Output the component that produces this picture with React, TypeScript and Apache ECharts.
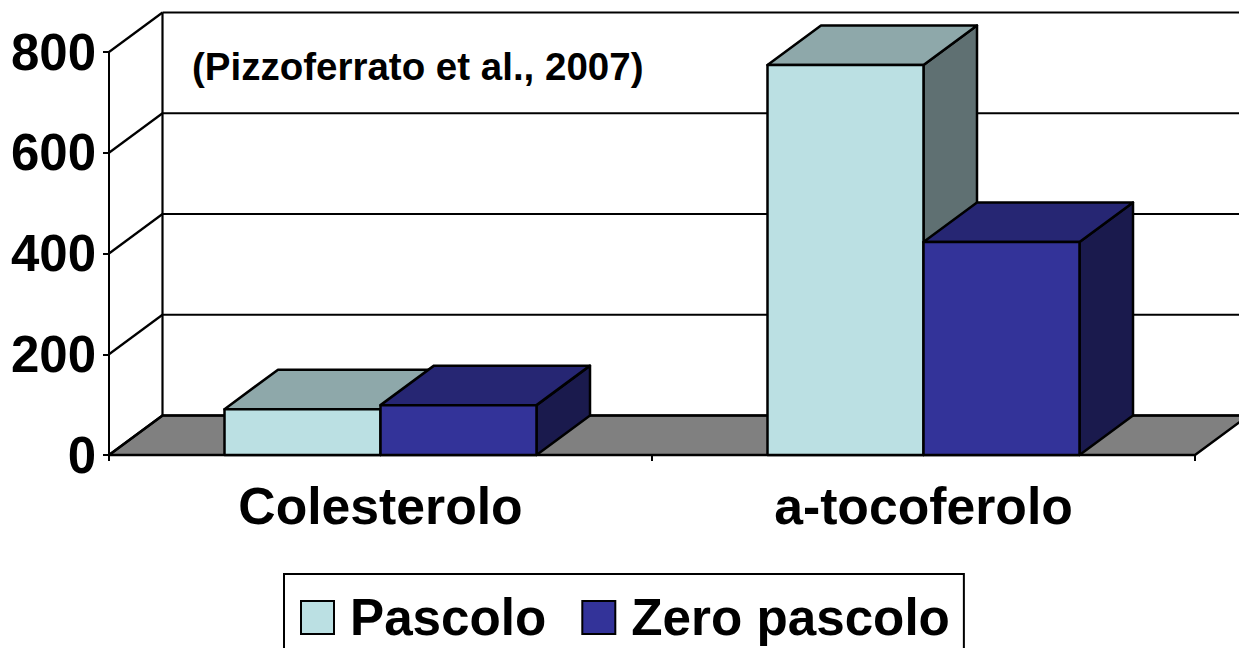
import React, { useEffect, useRef } from "react";
import * as echarts from "echarts";

const categories = ["Colesterolo", "a-tocoferolo"];
const pascolo = [91, 774];
const zeroPascolo = [99, 423];
const yTicks = [0, 200, 400, 600, 800];
const seriesNames = ["Pascolo", "Zero pascolo"];
const annotation = "(Pizzoferrato et al., 2007)";

const FONT = "'Liberation Sans', Arial, sans-serif";
const DX = 53.5;
const DY = -39.5;
const BAR_FRACTION = 0.2873;

const shape = (points: number[][], fill: string | null) => ({
  type: "polygon",
  shape: { points },
  style: { fill: fill ?? "none", stroke: "#000", lineWidth: 2.5, lineJoin: "round" },
});
const line = (a: number[], b: number[]) => ({
  type: "line",
  shape: { x1: a[0], y1: a[1], x2: b[0], y2: b[1] },
  style: { stroke: "#000", lineWidth: 2.2, fill: "none" },
});

function renderBackdrop(params: any, api: any) {
  const v = api.value(1);
  const cs = params.coordSys;
  const y = api.coord([0, v])[1];
  const xL = cs.x;
  const xR = cs.x + cs.width;
  const children: any[] = [];
  if (v === 0) {
    children.push(
      shape(
        [
          [xL, y],
          [xL + DX, y + DY],
          [xR + DX, y + DY],
          [xR, y],
        ],
        "#808080"
      )
    );
    children.push(line([xL + DX, cs.y + DY], [xL + DX, y + DY]));
  }
  children.push(line([xL, y], [xL + DX, y + DY]));
  children.push(line([xL + DX, y + DY], [xR + DX, y + DY]));
  return { type: "group", children };
}

function makeBar(side: number, front: string, top: string, right: string) {
  return (_params: any, api: any) => {
    const base = api.coord([api.value(0), 0]);
    const head = api.coord([api.value(0), api.value(1)]);
    const w = api.size([1, 0])[0] * BAR_FRACTION;
    const x0 = base[0] + (side === 0 ? -w : 0);
    const x1 = x0 + w;
    const y0 = base[1];
    const y1 = head[1];
    return {
      type: "group",
      children: [
        shape([[x1, y0], [x1 + DX, y0 + DY], [x1 + DX, y1 + DY], [x1, y1]], right),
        shape([[x0, y1], [x0 + DX, y1 + DY], [x1 + DX, y1 + DY], [x1, y1]], top),
        shape([[x0, y0], [x0, y1], [x1, y1], [x1, y0]], front),
      ],
    };
  };
}

export default function App() {
  const ref = useRef<HTMLDivElement>(null);
  useEffect(() => {
    if (!ref.current) return;
    const chart = echarts.init(ref.current, undefined, { renderer: "svg" });
    chart.setOption({
      animation: false,
      backgroundColor: "#fff",
      grid: { left: 109, right: 44, top: 52, bottom: 193 },
      graphic: [
        {
          type: "text",
          left: 192,
          top: 47,
          z: 10,
          style: { text: annotation, fill: "#000", font: `bold 38.5px ${FONT}` },
        },
      ],
      legend: {
        left: 284,
        top: 574,
        orient: "horizontal",
        padding: [18, 14, 30, 16],
        borderColor: "#000",
        borderWidth: 2,
        backgroundColor: "#fff",
        itemWidth: 33,
        itemHeight: 33,
        itemGap: 35,
        selectedMode: false,
        textStyle: {
          color: "#000",
          fontFamily: FONT,
          fontWeight: "bold",
          fontSize: 51.2,
          height: 33,
          lineHeight: 33,
          padding: [0, 0, 0, 11],
        },
        data: [
          { name: seriesNames[0], icon: "rect", itemStyle: { color: "#BBE0E3", borderColor: "#000", borderWidth: 2 } },
          { name: seriesNames[1], icon: "rect", itemStyle: { color: "#333399", borderColor: "#000", borderWidth: 2 } },
        ],
      },
      xAxis: {
        type: "category",
        data: categories,
        z: 5,
        axisLine: { lineStyle: { color: "#000", width: 2 } },
        axisTick: { show: true, length: 6, alignWithLabel: false, lineStyle: { color: "#000", width: 2 } },
        axisLabel: {
          color: "#000",
          fontFamily: FONT,
          fontWeight: "bold",
          fontSize: 51.7,
          margin: 25,
          interval: 0,
        },
        splitLine: { show: false },
      },
      yAxis: {
        type: "value",
        min: 0,
        max: 800,
        interval: 200,
        z: 5,
        axisLine: { show: true, lineStyle: { color: "#000", width: 2 } },
        axisTick: { show: true, length: 6, lineStyle: { color: "#000", width: 2 } },
        axisLabel: {
          color: "#000",
          fontFamily: FONT,
          fontWeight: "bold",
          fontSize: 51,
          margin: 13,
        },
        splitLine: { show: false },
      },
      series: [
        {
          name: "backdrop",
          type: "custom",
          silent: true,
          z: 1,
          renderItem: renderBackdrop,
          encode: { x: 0, y: 1 },
          data: yTicks.map((t) => [0, t]),
        },
        {
          name: seriesNames[0],
          type: "custom",
          z: 2,
          itemStyle: { color: "#BBE0E3" },
          renderItem: makeBar(0, "#BBE0E3", "#8EA8AA", "#5F7072"),
          encode: { x: 0, y: 1 },
          data: pascolo.map((v, i) => [i, v]),
        },
        {
          name: seriesNames[1],
          type: "custom",
          z: 3,
          itemStyle: { color: "#333399" },
          renderItem: makeBar(1, "#333399", "#262673", "#1A1A4D"),
          encode: { x: 0, y: 1 },
          data: zeroPascolo.map((v, i) => [i, v]),
        },
      ],
    });
    return () => chart.dispose();
  }, []);
  return <div ref={ref} style={{ position: "fixed", left: 0, top: 0, width: 1239, height: 648 }} />;
}
